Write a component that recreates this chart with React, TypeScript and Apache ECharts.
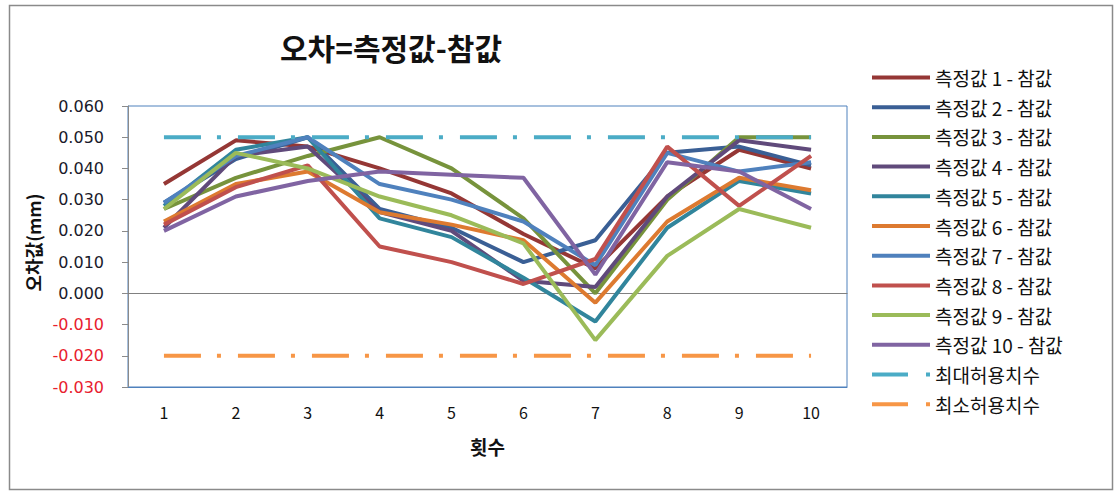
import React, { useEffect, useRef } from "react";
import * as echarts from "echarts";

const categories = ["1", "2", "3", "4", "5", "6", "7", "8", "9", "10"];

const seriesNames = [
  "측정값 1 - 참값",
  "측정값 2 - 참값",
  "측정값 3 - 참값",
  "측정값 4 - 참값",
  "측정값 5 - 참값",
  "측정값 6 - 참값",
  "측정값 7 - 참값",
  "측정값 8 - 참값",
  "측정값 9 - 참값",
  "측정값 10 - 참값",
];

const s1 = [0.035, 0.049, 0.047, 0.04, 0.032, 0.019, 0.008, 0.031, 0.046, 0.04];
const s2 = [0.029, 0.043, 0.05, 0.027, 0.021, 0.01, 0.017, 0.045, 0.047, 0.041];
const s3 = [0.027, 0.037, 0.044, 0.05, 0.04, 0.024, 0.0, 0.03, 0.05, 0.05];
const s4 = [0.021, 0.044, 0.047, 0.026, 0.02, 0.004, 0.002, 0.031, 0.049, 0.046];
const s5 = [0.028, 0.046, 0.05, 0.024, 0.018, 0.005, -0.009, 0.021, 0.036, 0.032];
const s6 = [0.023, 0.035, 0.039, 0.026, 0.022, 0.017, -0.003, 0.023, 0.037, 0.033];
const s7 = [0.029, 0.044, 0.05, 0.035, 0.03, 0.023, 0.009, 0.045, 0.039, 0.042];
const s8 = [0.022, 0.034, 0.041, 0.015, 0.01, 0.003, 0.011, 0.047, 0.028, 0.044];
const s9 = [0.027, 0.045, 0.04, 0.031, 0.025, 0.016, -0.015, 0.012, 0.027, 0.021];
const s10 = [0.02, 0.031, 0.036, 0.039, 0.038, 0.037, 0.006, 0.042, 0.039, 0.027];

const maxLimitName = "최대허용치수";
const minLimitName = "최소허용치수";
const maxLimit = [0.05, 0.05, 0.05, 0.05, 0.05, 0.05, 0.05, 0.05, 0.05, 0.05];
const minLimit = [-0.02, -0.02, -0.02, -0.02, -0.02, -0.02, -0.02, -0.02, -0.02, -0.02];

const seriesValues = [s1, s2, s3, s4, s5, s6, s7, s8, s9, s10];
const seriesColors = [
  "#953735",
  "#3A5F95",
  "#77933C",
  "#604A7B",
  "#31859C",
  "#DD7A30",
  "#4F81BD",
  "#C0504D",
  "#9BBB59",
  "#8064A2",
];
const maxColor = "#4BACC6";
const minColor = "#F79646";

const yTickMin = -0.03;
const yTickMax = 0.06;
const yTickStep = 0.01;

const FONT = "'Noto Sans CJK KR', 'Noto Sans', sans-serif";
const NUM_FONT = "'DejaVu Sans', 'Noto Sans', sans-serif";

const SOLID_ICON = "path://M0,0H58V4H0Z";
const DASHDOT_ICON = "path://M0,0H36V4H0ZM54,0H58V4H54Z";

export default function App() {
  const ref = useRef<HTMLDivElement>(null);

  useEffect(() => {
    if (!ref.current) return;
    const chart = echarts.init(ref.current, null, { renderer: "svg" });

    const dataSeries = seriesValues.map((vals, i) => ({
      name: seriesNames[i],
      type: "line",
      data: vals,
      symbol: "none",
      showSymbol: false,
      lineStyle: { color: seriesColors[i], width: 4 },
      itemStyle: { color: seriesColors[i] },
      z: 3,
    }));

    const dashPattern = [37, 16, 4, 17];

    chart.setOption({
      animation: false,
      backgroundColor: "#ffffff",
      title: {
        text: "오차=측정값-참값",
        left: 275,
        top: 27,
        textStyle: {
          fontFamily: FONT,
          fontSize: 30,
          fontWeight: "bold",
          color: "#111111",
        },
      },
      graphic: [
        {
          type: "rect",
          shape: { x: 9.5, y: 5.5, width: 1103, height: 484 },
          style: { fill: "none", stroke: "#8a8a8a", lineWidth: 1.5 },
          silent: true,
          z: -1,
        },
      ],
      legend: {
        orient: "vertical",
        left: 867,
        top: 63,
        itemWidth: 58,
        itemHeight: 4,
        itemGap: 10.7,
        textStyle: {
          fontFamily: FONT,
          fontSize: 19,
          lineHeight: 18,
          color: "#111111",
        },
        data: [
          ...seriesNames.map((n) => ({ name: n, icon: SOLID_ICON })),
          { name: maxLimitName, icon: DASHDOT_ICON },
          { name: minLimitName, icon: DASHDOT_ICON },
        ],
      },
      grid: {
        left: 128,
        top: 106,
        right: 273,
        bottom: 109,
        show: true,
        borderColor: "#4F81BD",
        borderWidth: 1,
        backgroundColor: "transparent",
      },
      xAxis: [
        {
          type: "category",
          data: categories,
          boundaryGap: true,
          name: "횟수",
          nameLocation: "middle",
          nameGap: 50,
          nameTextStyle: {
            fontFamily: FONT,
            fontSize: 19,
            fontWeight: "bold",
            color: "#111111",
          },
          axisLine: { onZero: false, lineStyle: { color: "#4F81BD", width: 1 } },
          axisTick: { show: false },
          axisLabel: {
            fontFamily: FONT,
            fontSize: 16,
            color: "#111111",
            margin: 17,
          },
          splitLine: { show: false },
        },
        {
          type: "category",
          data: categories,
          boundaryGap: true,
          position: "bottom",
          axisLine: { onZero: true, lineStyle: { color: "#808080", width: 1.2 } },
          axisTick: { show: false },
          axisLabel: { show: false },
          splitLine: { show: false },
        },
      ],
      yAxis: {
        type: "value",
        min: yTickMin,
        max: yTickMax,
        interval: yTickStep,
        name: "오차값(mm)",
        nameLocation: "middle",
        nameGap: 86,
        nameRotate: 90,
        nameTextStyle: {
          fontFamily: FONT,
          fontSize: 18,
          fontWeight: "bold",
          color: "#111111",
          padding: [0, 0, 0, 8],
        },
        axisLine: { show: true, lineStyle: { color: "#8a8a8a", width: 1 } },
        axisTick: { show: true, length: 6, inside: false, lineStyle: { color: "#8a8a8a" } },
        axisLabel: {
          fontFamily: NUM_FONT,
          fontSize: 16,
          margin: 24,
          formatter: (v: number) => (Math.abs(v) < 1e-9 ? 0 : v).toFixed(3),
          color: (v: any) => (Number(v) < -1e-9 ? "#E8202E" : "#1a1a2a"),
        },
        splitLine: { show: false },
      },
      series: [
        ...dataSeries,
        {
          name: maxLimitName,
          type: "line",
          data: maxLimit,
          symbol: "none",
          showSymbol: false,
          lineStyle: { color: maxColor, width: 4, type: dashPattern },
          itemStyle: { color: maxColor },
          z: 4,
        },
        {
          name: minLimitName,
          type: "line",
          data: minLimit,
          symbol: "none",
          showSymbol: false,
          lineStyle: { color: minColor, width: 4, type: dashPattern },
          itemStyle: { color: minColor },
          z: 4,
        },
      ],
    });

    return () => chart.dispose();
  }, []);

  return (
    <div
      ref={ref}
      style={{ position: "absolute", left: 0, top: 0, width: 1120, height: 496 }}
    />
  );
}
